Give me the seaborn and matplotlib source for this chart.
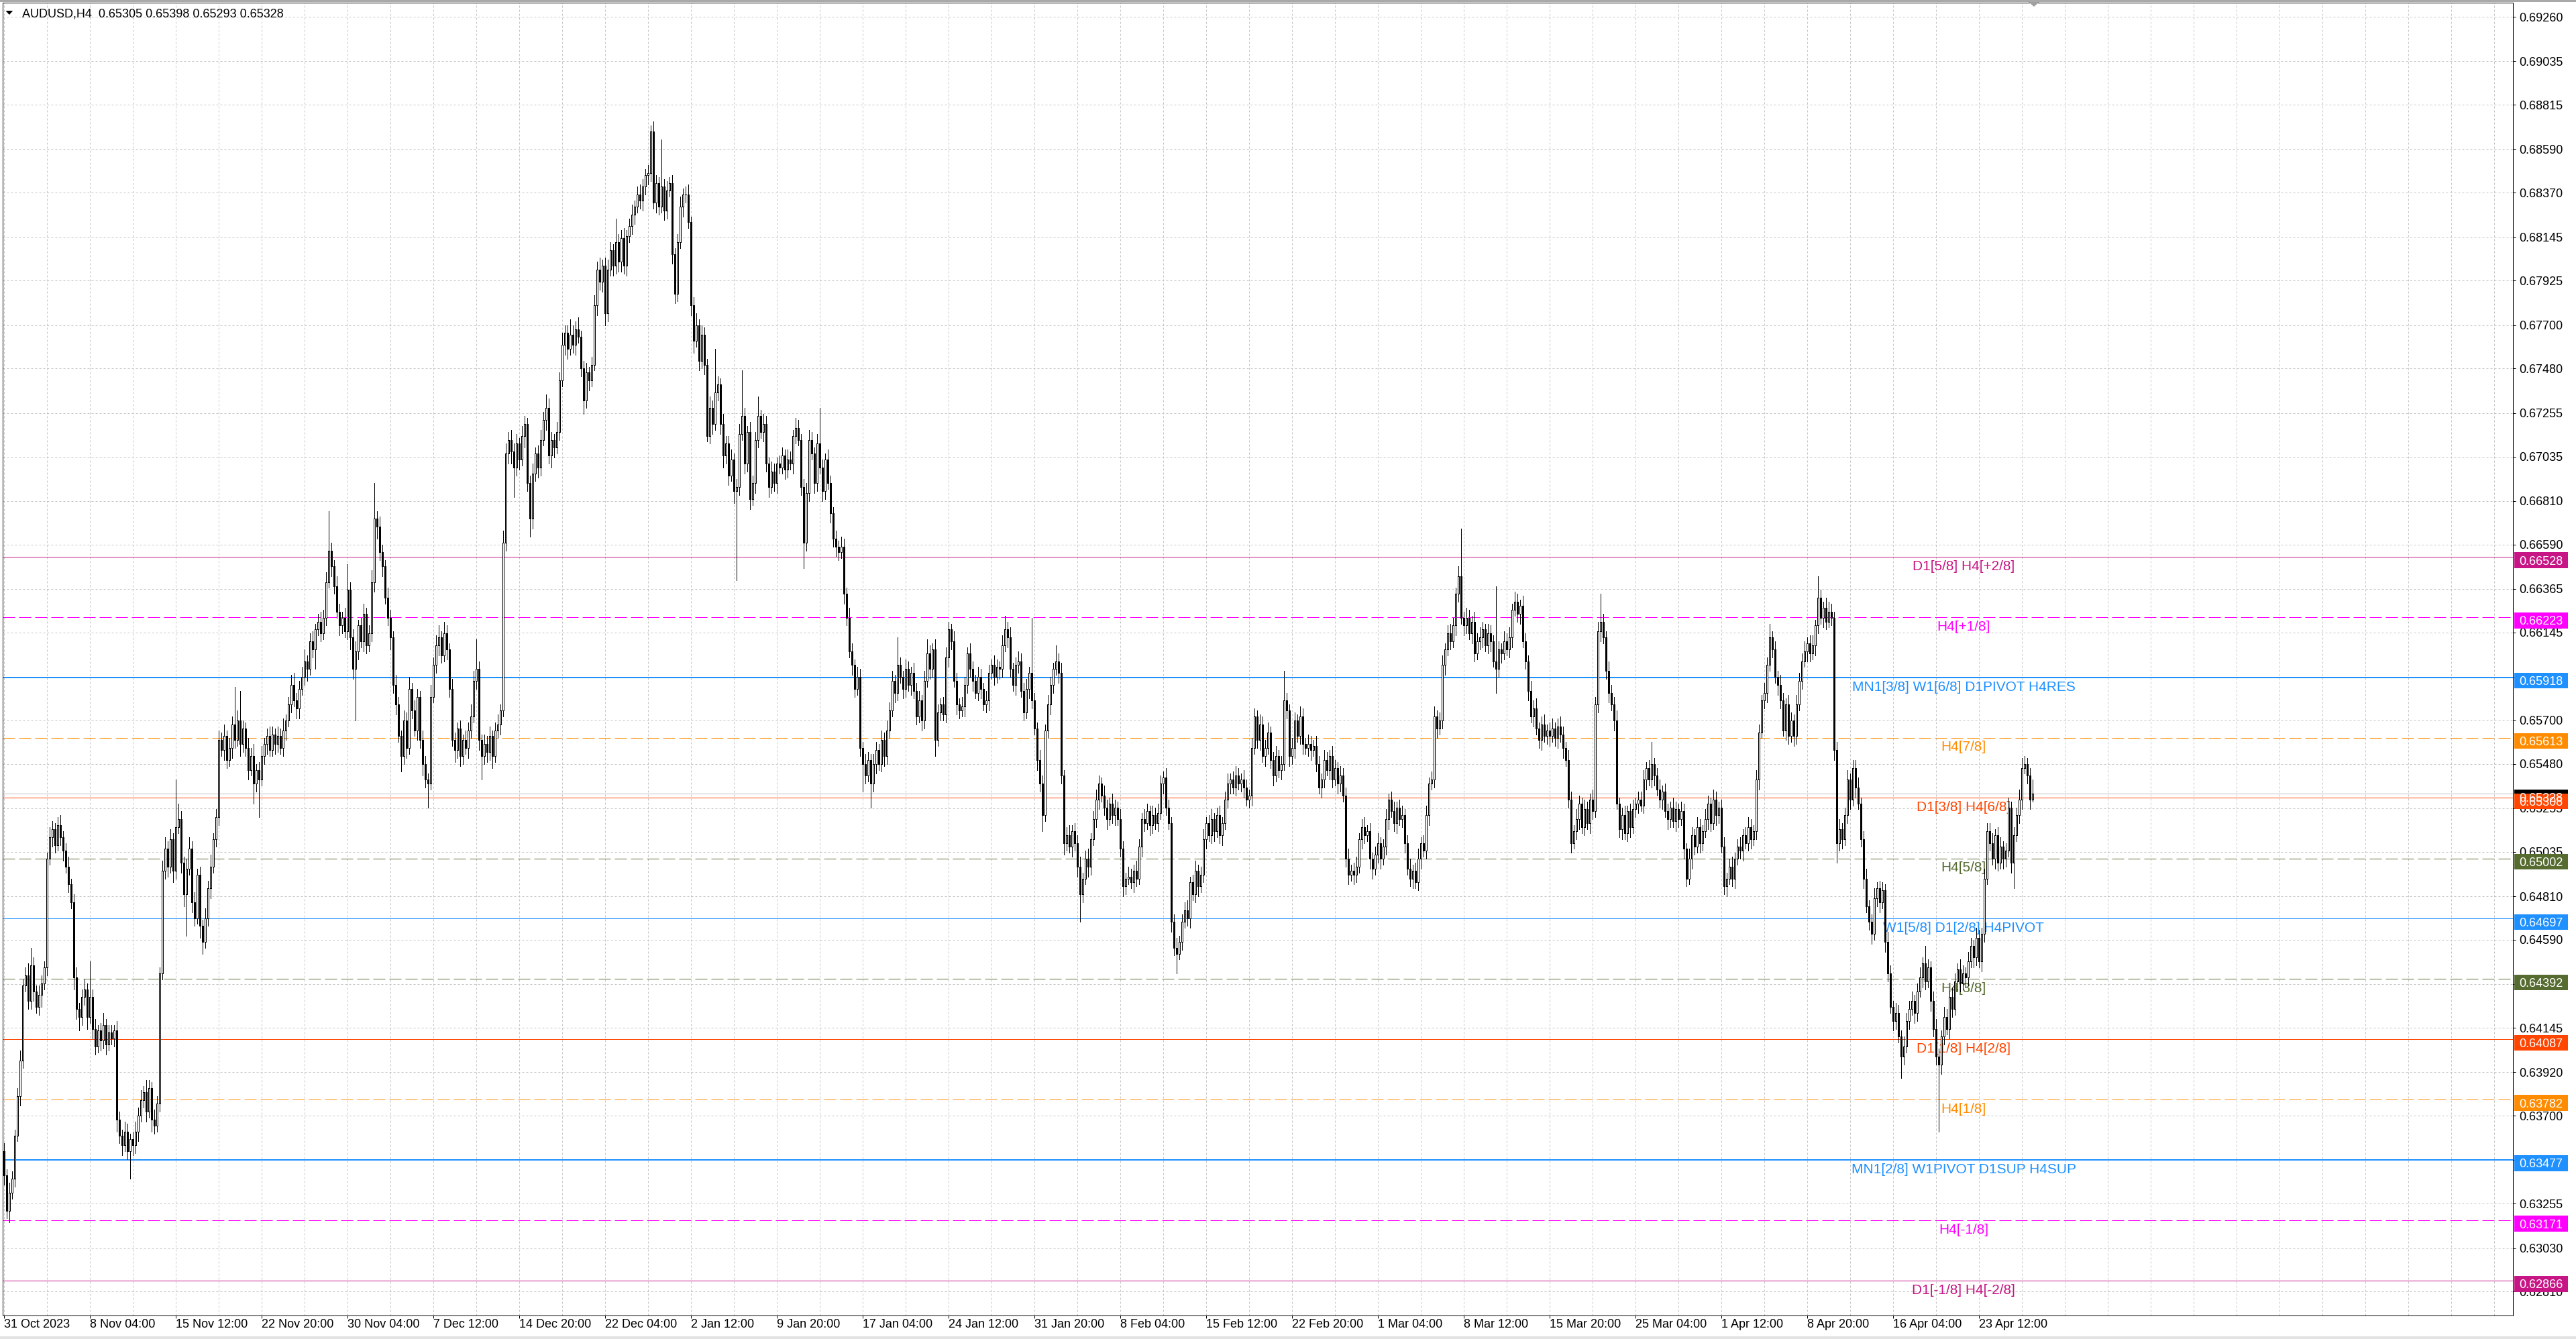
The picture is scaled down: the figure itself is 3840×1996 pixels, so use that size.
import numpy as np
import pandas as pd
import matplotlib
matplotlib.use("Agg")
import matplotlib.pyplot as plt
import seaborn as sns
from matplotlib.patches import Rectangle, Polygon
from matplotlib.transforms import blended_transform_factory

# ---------------- data (prices in pips: 6340 -> 0.6340) ----------------
chart_title = "AUDUSD,H4  0.65305 0.65398 0.65293 0.65328"
current_price = 0.65328

first_open = 6352
close_pips = [
    6340, 6322, 6331, 6338, 6360, 6380, 6398, 6436, 6441, 6428,
    6446, 6433, 6425, 6431, 6437, 6445, 6500, 6511, 6515, 6507,
    6517, 6511, 6504, 6496, 6487, 6478, 6440, 6424, 6420, 6430,
    6434, 6420, 6430, 6414, 6405, 6413, 6408, 6416, 6406, 6412,
    6409, 6413, 6368, 6360, 6355, 6362, 6352, 6358, 6355, 6362,
    6370, 6378, 6382, 6372, 6384, 6368, 6365, 6376, 6442, 6494,
    6505, 6496, 6510, 6494, 6516, 6520, 6498, 6482, 6495, 6505,
    6478, 6470, 6492, 6466, 6458, 6470, 6485, 6496, 6510, 6521,
    6560, 6555, 6562, 6550, 6556, 6568, 6560, 6570, 6558, 6566,
    6556, 6545, 6552, 6538, 6545, 6540, 6552, 6558, 6562, 6555,
    6563, 6558, 6562, 6556, 6565, 6570, 6578, 6588, 6580, 6576,
    6586, 6592, 6600, 6596, 6610, 6606, 6616, 6620, 6614, 6622,
    6640, 6656, 6648, 6638, 6625, 6618, 6622, 6615, 6636, 6612,
    6596, 6605, 6618, 6610, 6624, 6608, 6614, 6640, 6672, 6668,
    6655, 6648, 6632, 6622, 6612, 6588, 6578, 6562, 6552, 6570,
    6556, 6586, 6575, 6565, 6582, 6560, 6548, 6540, 6538, 6582,
    6598, 6608, 6612, 6603, 6614, 6606, 6586, 6560, 6555, 6566,
    6552, 6560, 6556, 6565, 6572, 6590, 6596, 6560, 6552, 6558,
    6554, 6562, 6552, 6565, 6568, 6575, 6660, 6705, 6712, 6706,
    6698, 6710, 6702, 6714, 6720, 6690, 6672, 6695, 6705, 6698,
    6712, 6722, 6728, 6704, 6712, 6708, 6716, 6742, 6760, 6766,
    6758, 6765, 6760, 6768, 6764, 6748, 6732, 6746, 6742, 6750,
    6780, 6798, 6792, 6800, 6776, 6798, 6808, 6800, 6812, 6802,
    6814, 6800, 6815, 6820, 6826, 6830, 6836, 6833, 6840, 6846,
    6847, 6868, 6832, 6842, 6830, 6840, 6828, 6838, 6842, 6806,
    6786, 6812, 6830, 6836, 6836, 6822, 6780, 6762, 6770, 6752,
    6765, 6750, 6714, 6728, 6720, 6736, 6740, 6720, 6704, 6710,
    6694, 6702, 6686, 6688, 6715, 6724, 6700, 6716, 6682, 6690,
    6712, 6724, 6716, 6720, 6700, 6688, 6696, 6690, 6700, 6698,
    6704, 6697, 6702, 6700, 6714, 6718, 6712, 6688, 6660, 6685,
    6712, 6705, 6690, 6710, 6698, 6686, 6702, 6690, 6675, 6662,
    6658, 6655, 6658, 6634, 6622, 6605, 6598, 6586, 6592, 6556,
    6548, 6542, 6550, 6538, 6548, 6555, 6548, 6560, 6552, 6565,
    6575, 6590, 6584, 6598, 6592, 6586, 6596, 6588, 6594, 6585,
    6572, 6580, 6570, 6590, 6604, 6596, 6606, 6560, 6574, 6578,
    6573, 6602, 6616, 6610, 6590, 6578, 6575, 6577, 6588, 6604,
    6596, 6590, 6584, 6592, 6586, 6578, 6580, 6594, 6598, 6592,
    6597, 6596, 6608, 6616, 6612, 6596, 6588, 6598, 6600, 6585,
    6574, 6586, 6594, 6580, 6566, 6550, 6538, 6522, 6565, 6578,
    6588, 6596, 6600, 6594, 6542, 6508, 6512, 6506, 6514, 6508,
    6496, 6482, 6490, 6500, 6496, 6510, 6520, 6530, 6538, 6532,
    6526, 6520, 6528, 6522, 6526, 6520, 6505, 6486, 6490, 6491,
    6488, 6494, 6490, 6506, 6520, 6518, 6524, 6517, 6522, 6518,
    6523, 6538, 6541, 6526, 6518, 6468, 6455, 6452, 6458, 6468,
    6474, 6470, 6488, 6482, 6494, 6486, 6492, 6510, 6518, 6512,
    6520, 6514, 6522, 6512, 6518, 6530, 6538, 6540, 6536, 6542,
    6538, 6540, 6536, 6530, 6532, 6556, 6572, 6560, 6568, 6552,
    6556, 6564, 6550, 6542, 6552, 6545, 6548, 6580, 6575, 6552,
    6556, 6570, 6562, 6572, 6558, 6556, 6558, 6555, 6557, 6548,
    6536, 6540, 6550, 6545, 6552, 6540, 6546, 6538, 6542, 6532,
    6500, 6492, 6494, 6492, 6496, 6510, 6516, 6512, 6514, 6500,
    6495, 6502, 6508, 6500, 6506, 6520, 6530, 6524, 6518, 6526,
    6520, 6522, 6508, 6495, 6490, 6494, 6488, 6500, 6508, 6504,
    6522, 6538, 6540, 6572, 6566, 6570, 6598, 6606, 6614, 6610,
    6618, 6634, 6643, 6622, 6618, 6622, 6614, 6620, 6604, 6610,
    6612, 6616, 6608, 6614, 6610, 6600, 6596, 6606, 6604, 6610,
    6606, 6612, 6626, 6630, 6624, 6628, 6610, 6600, 6585, 6572,
    6576, 6566, 6560, 6568, 6562, 6565, 6562, 6566, 6561, 6567,
    6563, 6556, 6550, 6530, 6508, 6514, 6520, 6528, 6516, 6525,
    6518, 6530, 6524, 6578, 6615, 6620, 6612, 6595, 6584, 6578,
    6570, 6528, 6515, 6522, 6513, 6524, 6516, 6525, 6528, 6530,
    6527, 6540, 6546, 6540, 6548, 6542, 6535, 6530, 6534, 6524,
    6520, 6526, 6519, 6525, 6520, 6524, 6505, 6490, 6500, 6512,
    6506, 6516, 6508, 6514, 6520, 6528, 6518, 6530, 6522, 6526,
    6506, 6486, 6490, 6496, 6490, 6500, 6506, 6504, 6512, 6508,
    6516, 6510, 6514, 6540, 6564, 6580, 6584, 6598, 6612, 6606,
    6592, 6588, 6580, 6565, 6578, 6562, 6570, 6562, 6578, 6590,
    6600, 6605, 6609, 6604, 6608, 6618, 6632, 6622, 6627, 6620,
    6625, 6622, 6555, 6508, 6515, 6510, 6522, 6540, 6530, 6546,
    6536, 6528, 6510, 6490, 6476, 6468, 6462, 6480, 6485, 6478,
    6484, 6458, 6442, 6425, 6418, 6422, 6410, 6400, 6405, 6418,
    6424, 6428, 6422, 6433, 6440, 6447, 6438, 6445, 6428, 6414,
    6400, 6396, 6410, 6420, 6414, 6430, 6424, 6438, 6444, 6437,
    6442, 6440, 6448, 6456, 6450, 6460, 6448, 6462, 6490, 6514,
    6508, 6500, 6512, 6498, 6506, 6500, 6504, 6526, 6498, 6512,
    6522, 6530, 6546, 6548, 6542, 6530, 6533,
]
wick_up = [
    4, 3, 5, 4, 3, 4, 5, 3, 4, 6,   9, 4, 3, 5, 4, 3, 3, 5, 4, 3,
    4, 5, 3, 4, 5, 3, 4, 5, 3, 4,   5, 3, 18, 4, 5, 3, 4, 6, 3, 4,
    4, 3, 5, 4, 3, 5, 4, 3, 4, 5,   4, 5, 3, 6, 4, 3, 5, 4, 3, 5,
    6, 4, 5, 3, 24, 8, 4, 3, 5, 6,  4, 5, 3, 4, 3, 5, 4, 6, 3, 4,
    5, 4, 6, 3, 5, 4, 19, 5, 15, 4, 3, 5, 4, 6, 3, 4, 5, 3, 4, 5,
    4, 3, 5, 4, 6, 3, 4, 5, 6, 4,   4, 5, 6, 3, 4, 5, 3, 4, 5, 4,
    5, 20, 4, 3, 5, 4, 3, 5, 13, 4, 4, 5, 3, 4, 5, 3, 4, 6, 18, 4,
    5, 4, 3, 5, 4, 3, 5, 4, 3, 5,   4, 6, 3, 5, 4, 3, 5, 4, 3, 6,
    4, 5, 6, 3, 6, 4, 3, 5, 4, 3,   4, 3, 5, 4, 6, 5, 15, 4, 3, 5,
    4, 5, 3, 4, 5, 3, 6, 5, 4, 5,   4, 5, 3, 5, 4, 3, 4, 5, 3, 4,
    5, 4, 7, 5, 4, 3, 5, 4, 6, 4,   4, 8, 5, 4, 6, 3, 4, 5, 3, 4,
    5, 4, 6, 3, 4, 5, 4, 3, 12, 4,  4, 5, 3, 4, 5, 3, 4, 5, 4, 3,
    4, 3, 5, 4, 3, 24, 4, 5, 3, 4,  3, 4, 5, 3, 4, 5, 3, 4, 6, 3,
    5, 4, 3, 6, 4, 22, 4, 3, 5, 4,  4, 5, 3, 4, 5, 23, 4, 3, 5, 4,
    4, 10, 3, 5, 4, 3, 5, 4, 3, 4,  4, 3, 5, 4, 3, 5, 4, 3, 4, 5,
    5, 4, 3, 5, 18, 4, 3, 5, 4, 3,  4, 3, 5, 4, 3, 5, 4, 3, 5, 4,
    3, 5, 4, 3, 5, 4, 3, 5, 4, 5,   4, 5, 3, 14, 4, 3, 5, 4, 3, 5,
    4, 5, 3, 5, 7, 4, 3, 5, 4, 3,   4, 5, 4, 3, 5, 4, 3, 5, 4, 3,
    5, 4, 3, 5, 4, 3, 5, 4, 3, 5,   4, 3, 5, 7, 4, 5, 3, 4, 5, 4,
    4, 5, 3, 28, 4, 3, 5, 4, 3, 5,  4, 3, 8, 4, 5, 3, 4, 5, 3, 4,
    4, 5, 3, 4, 5, 3, 4, 5, 4, 3,   5, 4, 3, 5, 4, 3, 5, 4, 3, 5,
    4, 3, 5, 4, 3, 5, 4, 3, 5, 4,   5, 4, 3, 5, 4, 3, 4, 5, 3, 4,
    4, 5, 3, 4, 5, 3, 4, 5, 3, 4,   5, 3, 4, 5, 3, 4, 5, 3, 4, 5,
    4, 3, 5, 4, 3, 5, 4, 3, 5, 4,   4, 5, 3, 4, 5, 3, 4, 15, 4, 3,
    5, 4, 3, 5, 4, 3, 5, 4, 3, 5,   4, 3, 5, 4, 3, 5, 4, 3, 5, 4,
    4, 5, 3, 4, 5, 3, 4, 5, 3, 4,   3, 4, 5, 3, 4, 5, 3, 4, 5, 3,
    4, 5, 3, 4, 5, 3, 4, 5, 3, 4,   5, 3, 4, 5, 3, 4, 5, 3, 4, 5,
    4, 3, 5, 24, 3, 5, 4, 3, 5, 4,  5, 4, 3, 5, 4, 3, 38, 4, 3, 5,
    4, 5, 3, 5, 4, 3, 5, 4, 3, 5,   4, 5, 3, 4, 5, 3, 4, 5, 3, 4,
    5, 4, 3, 5, 4, 3, 5, 4, 3, 5,   4, 3, 5, 4, 5, 14, 4, 3, 5, 4,
    4, 5, 3, 4, 5, 3, 4, 5, 3, 4,   4, 5, 3, 4, 11, 3, 4, 5, 3, 4,
    4, 3, 5, 4, 3, 5, 4, 3, 5, 4,   3, 5, 4, 3, 5, 4, 3, 5, 4, 3,
    4, 5, 3, 4, 5, 3, 4, 5, 3, 4,   5, 4, 3, 5, 4, 3, 5, 4, 7, 3,
    4, 3, 5, 4, 3, 5, 4, 3, 5, 4,   4, 5, 3, 4, 5, 3, 11, 4, 3, 5,
    5, 4, 3, 4, 5, 3, 4, 5, 3, 4,   4, 5, 3, 4, 5, 3, 4, 5, 3, 4,
    4, 3, 5, 4, 3, 5, 4, 3, 5, 4,   4, 5, 3, 4, 5, 3, 9, 4, 3, 5,
    5, 4, 3, 5, 4, 3, 5, 4, 3, 5,   4, 3, 5, 4, 3, 5, 4, 3, 5, 4,
    4, 5, 3, 4, 5, 3, 4, 5, 3, 4,   4, 5, 5, 4, 3, 4, 7,
]
wick_dn = [
    5, 4, 6, 3, 4, 3, 5, 4, 3, 4,   4, 5, 3, 4, 6, 3, 4, 3, 5, 4,
    3, 4, 5, 3, 4, 3, 6, 5, 7, 4,   4, 6, 3, 5, 4, 3, 5, 4, 5, 3,
    3, 4, 6, 4, 5, 3, 4, 14, 5, 4,  5, 3, 4, 5, 3, 6, 4, 3, 4, 3,
    4, 5, 3, 6, 4, 3, 5, 6, 21, 3,  5, 4, 3, 6, 6, 3, 4, 5, 3, 4,
    4, 3, 5, 4, 3, 5, 4, 3, 6, 4,   4, 5, 3, 10, 4, 19, 3, 4, 5, 3,
    3, 5, 4, 3, 4, 5, 3, 4, 3, 5,   5, 3, 4, 6, 3, 4, 10, 3, 4, 3,
    4, 3, 5, 4, 3, 5, 4, 3, 4, 6,   5, 26, 4, 3, 5, 4, 3, 4, 5, 6,
    4, 5, 3, 4, 6, 4, 5, 3, 8, 4,   5, 3, 4, 3, 5, 4, 6, 4, 12, 3,
    3, 4, 5, 4, 3, 5, 4, 3, 6, 4,   5, 4, 3, 5, 4, 3, 4, 5, 12, 4,
    5, 4, 6, 3, 4, 5, 3, 4, 5, 6,   15, 4, 5, 3, 6, 4, 9, 5, 4, 5,
    4, 3, 5, 4, 6, 5, 3, 4, 3, 5,   5, 3, 4, 5, 3, 4, 7, 4, 5, 3,
    3, 5, 4, 5, 6, 4, 3, 5, 4, 5,   5, 4, 5, 3, 4, 5, 3, 4, 5, 4,
    5, 4, 3, 5, 4, 3, 5, 4, 3, 5,   5, 4, 3, 5, 4, 3, 5, 6, 3, 5,
    4, 5, 3, 4, 5, 3, 4, 5, 6, 4,   5, 3, 6, 45, 4, 3, 5, 4, 5, 3,
    5, 4, 3, 5, 4, 5, 3, 4, 5, 3,   3, 5, 4, 3, 5, 4, 3, 4, 13, 4,
    4, 3, 5, 4, 3, 5, 4, 3, 5, 4,   5, 4, 3, 5, 4, 3, 5, 4, 3, 4,
    14, 4, 3, 12, 4, 5, 3, 4, 5, 4, 4, 3, 5, 4, 3, 5, 4, 3, 5, 4,
    4, 3, 5, 4, 3, 5, 4, 8, 3, 4,   3, 4, 5, 4, 3, 5, 4, 3, 5, 4,
    4, 5, 3, 4, 5, 3, 4, 5, 3, 4,   3, 5, 4, 3, 5, 4, 3, 5, 4, 3,
    4, 3, 5, 4, 3, 5, 4, 8, 3, 4,   5, 4, 3, 5, 4, 6, 4, 3, 5, 4,
    5, 14, 4, 3, 5, 4, 3, 4, 5, 3,  4, 5, 3, 4, 5, 3, 4, 5, 4, 3,
    3, 5, 4, 3, 5, 4, 3, 5, 4, 3,   4, 3, 5, 4, 3, 5, 4, 10, 3, 4,
    3, 4, 5, 3, 4, 5, 3, 4, 5, 3,   4, 5, 3, 4, 5, 3, 4, 5, 3, 4,
    3, 4, 5, 3, 4, 5, 3, 4, 5, 3,   5, 3, 4, 5, 3, 4, 5, 3, 4, 5,
    4, 5, 3, 4, 5, 3, 4, 5, 3, 4,   3, 5, 4, 3, 5, 4, 3, 5, 4, 3,
    4, 5, 3, 5, 4, 3, 5, 4, 3, 5,   5, 3, 4, 5, 3, 4, 5, 3, 4, 5,
    3, 4, 5, 3, 4, 5, 3, 4, 5, 3,   4, 5, 3, 4, 5, 3, 4, 5, 3, 4,
    3, 5, 4, 3, 5, 4, 3, 5, 4, 3,   4, 5, 3, 4, 5, 3, 12, 4, 5, 3,
    3, 4, 5, 3, 4, 5, 3, 4, 5, 3,   5, 3, 4, 5, 3, 4, 5, 3, 4, 5,
    4, 5, 3, 4, 5, 3, 4, 5, 3, 4,   3, 5, 4, 3, 4, 5, 3, 4, 5, 3,
    5, 3, 4, 5, 3, 4, 5, 3, 4, 5,   3, 4, 5, 3, 4, 5, 3, 4, 5, 3,
    5, 4, 3, 5, 4, 3, 5, 4, 3, 5,   4, 3, 5, 4, 3, 5, 4, 3, 5, 4,
    3, 4, 5, 3, 4, 5, 3, 4, 5, 3,   4, 5, 3, 4, 5, 3, 4, 5, 3, 4,
    3, 5, 4, 3, 5, 4, 3, 5, 4, 3,   4, 3, 5, 4, 3, 5, 4, 3, 5, 4,
    3, 4, 5, 10, 4, 5, 3, 4, 5, 3,  5, 3, 4, 5, 3, 4, 5, 3, 4, 5,
    3, 5, 4, 3, 5, 4, 3, 11, 4, 3,  4, 3, 5, 4, 3, 5, 4, 3, 5, 4,
    4, 34, 5, 4, 3, 5, 4, 3, 5, 4,  3, 5, 4, 3, 5, 4, 3, 5, 4, 3,
    4, 3, 5, 4, 3, 5, 4, 3, 5, 13,  3, 4, 5, 3, 4, 5, 1,
]

x_labels = [
    "31 Oct 2023", "8 Nov 04:00", "15 Nov 12:00", "22 Nov 20:00", "30 Nov 04:00",
    "7 Dec 12:00", "14 Dec 20:00", "22 Dec 04:00", "2 Jan 12:00", "9 Jan 20:00",
    "17 Jan 04:00", "24 Jan 12:00", "31 Jan 20:00", "8 Feb 04:00", "15 Feb 12:00",
    "22 Feb 20:00", "1 Mar 04:00", "8 Mar 12:00", "15 Mar 20:00", "25 Mar 04:00",
    "1 Apr 12:00", "8 Apr 20:00", "16 Apr 04:00", "23 Apr 12:00",
]
bars_per_label = 32
y_ticks = [
    0.69260, 0.69035, 0.68815, 0.68590, 0.68370, 0.68145, 0.67925, 0.67700,
    0.67480, 0.67255, 0.67035, 0.66810, 0.66590, 0.66365, 0.66145, 0.65920,
    0.65700, 0.65480, 0.65255, 0.65035, 0.64810, 0.64590, 0.64365, 0.64145,
    0.63920, 0.63700, 0.63475, 0.63255, 0.63030, 0.62810,
]

level_prices = [0.66528, 0.66223, 0.65918, 0.65613, 0.65308, 0.65002, 0.64697,
                0.64392, 0.64087, 0.63782, 0.63477, 0.63171, 0.62866]
level_names = ["D1[5/8] H4[+2/8]", "H4[+1/8]", "MN1[3/8] W1[6/8] D1PIVOT H4RES",
               "H4[7/8]", "D1[3/8] H4[6/8]", "H4[5/8]", "W1[5/8] D1[2/8] H4PIVOT",
               "H4[3/8]", "D1[1/8] H4[2/8]", "H4[1/8]", "MN1[2/8] W1PIVOT D1SUP H4SUP",
               "H4[-1/8]", "D1[-1/8] H4[-2/8]"]
level_colors = ["#C71585", "#FF00FF", "#1E90FF", "#FF8C00", "#FF4500", "#556B2F",
                "#1E90FF", "#556B2F", "#FF4500", "#FF8C00", "#1E90FF", "#FF00FF",
                "#C71585"]
level_dashed = [False, True, False, True, False, True, False, True, False, True,
                False, True, False]
level_width_px = [1, 1, 2, 1, 1, 1, 1, 1, 1, 1, 2, 1, 1]

# ---------------- layout ----------------
sns.set_theme(style="white")
plt.rcParams["font.family"] = ["Liberation Sans", "DejaVu Sans"]
plt.rcParams["lines.scale_dashes"] = True

W, H, DPI = 3840, 1996, 100
PT = 72.0 / DPI  # points per pixel
L, R, T, B = 3.5, 3746.0, 4.0, 1961.0
Y_TOP, Y_BOT = 0.693314, 0.62689
X0_PX, PX_PER_BAR = 5.5, 4.0

fig = plt.figure(figsize=(W / DPI, H / DPI), dpi=DPI, facecolor="white")
ax = fig.add_axes([L / W, 1 - B / H, (R - L) / W, (B - T) / H])
ax.set_facecolor("white")
ax.set_ylim(Y_BOT, Y_TOP)
ax.set_xlim((L - X0_PX) / PX_PER_BAR, (R - X0_PX) / PX_PER_BAR)

# ---------------- candles ----------------
n = min(len(close_pips), len(wick_up), len(wick_dn))
closes = np.array(close_pips[:n], dtype=float) / 1e4
opens = np.array([first_open] + close_pips[:n - 1], dtype=float) / 1e4
df = pd.DataFrame({"bar": np.arange(n), "open": opens, "close": closes})
df["top"] = df[["open", "close"]].max(axis=1)
df["bot"] = df[["open", "close"]].min(axis=1)
df["high"] = df["top"] + np.array(wick_up[:n]) / 1e4
df["low"] = df["bot"] - np.array(wick_dn[:n]) / 1e4
df["bull"] = df["close"] >= df["open"]

ax.vlines(df["bar"], df["low"], df["high"], colors="black", linewidth=PT,
          zorder=5, antialiased=False)
ax.bar(df["bar"], df["top"] - df["bot"], bottom=df["bot"], width=0.5,
       color=np.where(df["bull"], "white", "black"), edgecolor="black",
       linewidth=PT, zorder=6, antialiased=False)

# ---------------- grid / axes ----------------
ax.set_yticks(y_ticks)
ax.set_yticklabels([f"{v:.5f}" for v in y_ticks])
ax.yaxis.tick_right()
ax.set_xticks(np.arange(len(x_labels)) * bars_per_label)
ax.set_xticklabels(x_labels, ha="left")
ax.set_xticks(np.arange(0, 935, bars_per_label // 2), minor=True)
ax.xaxis.remove_overlapping_locs = False
grid_kw = dict(color="#C4C4C4", linewidth=PT, linestyle=(0, (3, 3)))
ax.grid(True, axis="y", which="major", **grid_kw)
ax.grid(True, axis="x", which="minor", **grid_kw)
ax.set_axisbelow(True)

ax.tick_params(axis="x", which="major", bottom=True, top=False, length=4 * PT,
               width=PT, color="black", pad=0.5, labelsize=13, labelcolor="black",
               direction="out")
ax.tick_params(axis="x", which="minor", bottom=False, length=0)
ax.tick_params(axis="y", which="major", right=True, left=False, labelright=True,
               labelleft=False, length=4 * PT, width=PT, color="black",
               pad=5 * PT, labelsize=13, labelcolor="black", direction="out")
for s in ax.spines.values():
    s.set_visible(True)
    s.set_color("black")
    s.set_linewidth(PT)

# ---------------- level lines ----------------
xc = (2927 - X0_PX) / PX_PER_BAR
ax.axhline(current_price, color="#C0C0C0", linewidth=PT, zorder=2)
for p, name, col, dashed, wpx in zip(level_prices, level_names, level_colors,
                                     level_dashed, level_width_px):
    ls = (0, (18, 6)) if dashed else "-"
    ax.axhline(p, color=col, linewidth=wpx * PT, linestyle=ls, zorder=2)
    ax.annotate(name, xy=(xc, p), xytext=(0, -3.5), textcoords="offset points",
                ha="center", va="top", fontsize=15, color=col, zorder=3,
                annotation_clip=False)

# ---------------- price boxes on the right axis ----------------
ppu = (B - T) / (Y_TOP - Y_BOT)
blend = blended_transform_factory(fig.transFigure, ax.transData)


def price_box(p, col):
    ax.add_patch(Rectangle((3748 / W, p - 16.8 / ppu), 80 / W, 23.3 / ppu,
                           transform=blend, facecolor=col, edgecolor="none",
                           clip_on=False, zorder=20))
    ax.text(3755 / W, p - 11.6 / ppu, f"{p:.5f}", transform=blend, color="white",
            fontsize=13, ha="left", va="baseline", clip_on=False, zorder=21)


price_box(current_price, "black")
for p, col in zip(level_prices, level_colors):
    price_box(p, col)

# ---------------- header and frame ----------------
fig.text(32.6 / W, 1 - 26 / H, chart_title, fontsize=13, color="black",
         ha="left", va="baseline")


def fig_poly(pts, color):
    arr = np.array([[x / W, 1 - y / H] for x, y in pts])
    fig.add_artist(Polygon(arr, closed=True, facecolor=color, edgecolor="none",
                           transform=fig.transFigure))


fig_poly([(8.5, 16), (19.2, 16), (13.85, 22)], "black")
fig_poly([(3024, 3), (3040, 3), (3032, 10)], "#A0A0A0")
fig_poly([(0, 0), (W, 0), (W, 2.5), (0, 2.5)], "#A9A9A9")
fig_poly([(0, 1992), (W, 1992), (W, H), (0, H)], "#E3E3E3")

fig.savefig("out.png", dpi=DPI, facecolor="white")
